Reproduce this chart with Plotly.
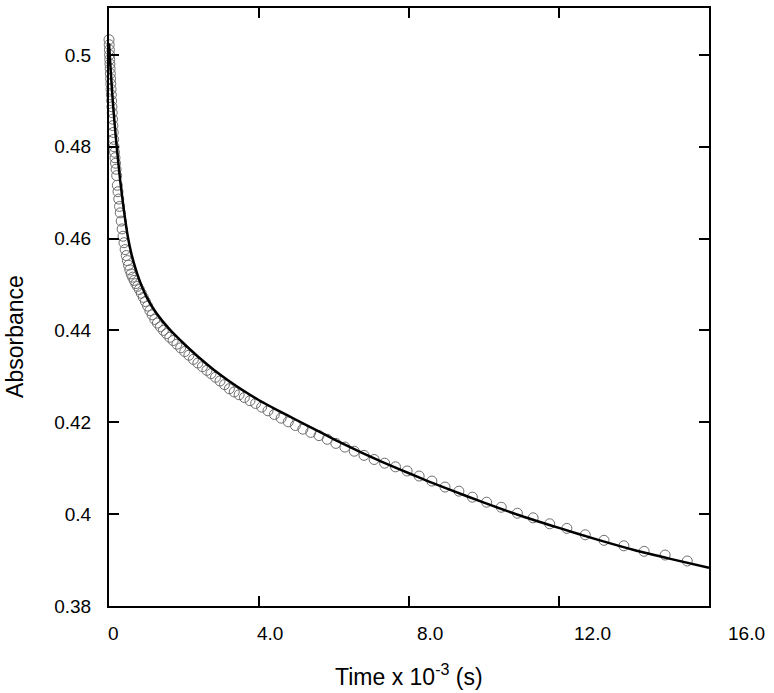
import plotly.graph_objects as go

# Measured data (time in units of 10^3 s, absorbance)
time_obs = [0.000, 0.005, 0.010, 0.015, 0.020, 0.025, 0.030, 0.036, 0.042, 0.048,
            0.055, 0.062, 0.070, 0.078, 0.086, 0.095, 0.104, 0.114, 0.124, 0.135,
            0.147, 0.160, 0.174, 0.189, 0.205, 0.222, 0.240, 0.260, 0.280, 0.300,
            0.325, 0.350, 0.375, 0.400, 0.430, 0.460, 0.490, 0.520, 0.555, 0.590,
            0.630, 0.670, 0.715, 0.760, 0.810, 0.860, 0.915, 0.970, 1.030, 1.090,
            1.150, 1.220, 1.290, 1.370, 1.450, 1.530, 1.620, 1.710, 1.810, 1.910,
            2.020, 2.130, 2.250, 2.370, 2.490, 2.610, 2.720, 2.840, 2.960, 3.080,
            3.210, 3.340, 3.470, 3.610, 3.760, 3.910, 4.070, 4.240, 4.410, 4.590,
            4.780, 4.970, 5.170, 5.380, 5.600, 5.820, 6.050, 6.290, 6.540, 6.800,
            7.070, 7.350, 7.640, 7.950, 8.270, 8.610, 8.960, 9.330, 9.690, 10.070,
            10.460, 10.890, 11.310, 11.750, 12.210, 12.700, 13.200, 13.730, 14.270, 14.830,
            15.420]
abs_obs = [0.5033, 0.5022, 0.5011, 0.5000, 0.4990, 0.4980, 0.4970, 0.4959, 0.4948, 0.4937,
           0.4925, 0.4913, 0.4900, 0.4887, 0.4874, 0.4860, 0.4846, 0.4831, 0.4816, 0.4800,
           0.4788, 0.4776, 0.4764, 0.4751, 0.4737, 0.4716, 0.4702, 0.4686, 0.4670, 0.4656,
           0.4638, 0.4621, 0.4605, 0.4591, 0.4576, 0.4563, 0.4552, 0.4542, 0.4532, 0.4523,
           0.4516, 0.4509, 0.4502, 0.4496, 0.4489, 0.4481, 0.4472, 0.4463, 0.4453, 0.4443,
           0.4434, 0.4424, 0.4416, 0.4408, 0.4400, 0.4393, 0.4385, 0.4378, 0.4370, 0.4362,
           0.4354, 0.4346, 0.4337, 0.4329, 0.4321, 0.4313, 0.4306, 0.4298, 0.4290, 0.4282,
           0.4273, 0.4266, 0.4260, 0.4254, 0.4247, 0.4241, 0.4233, 0.4225, 0.4217, 0.4209,
           0.4201, 0.4193, 0.4185, 0.4178, 0.4171, 0.4163, 0.4154, 0.4146, 0.4137, 0.4128,
           0.4119, 0.4111, 0.4103, 0.4094, 0.4083, 0.4072, 0.4059, 0.4050, 0.4037, 0.4026,
           0.4015, 0.4002, 0.3992, 0.3979, 0.3969, 0.3955, 0.3943, 0.3931, 0.3919, 0.3911,
           0.3898]

# Fitted curve
time_fit = [0.0, 0.05, 0.1, 0.15, 0.2, 0.3, 0.4, 0.5, 0.6, 0.7, 0.8, 0.9, 1.0, 1.2,
            1.4, 1.6, 1.8, 2.0, 2.4, 2.8, 3.2, 3.6, 4.0, 4.5, 5.0, 5.5, 6.0, 6.5, 7.0,
            7.5, 8.0, 8.5, 9.0, 10.0, 11.0, 12.0, 13.0, 14.0, 15.0, 16.0]
abs_fit = [0.5025, 0.4960, 0.4900, 0.4850, 0.4805, 0.4725, 0.4660, 0.4605, 0.4566,
           0.4537, 0.4512, 0.4491, 0.4473, 0.4445, 0.4423, 0.4404, 0.4387, 0.4371,
           0.4341, 0.4314, 0.4290, 0.4268, 0.4248, 0.4226, 0.4205, 0.4184, 0.4163,
           0.4143, 0.4124, 0.4106, 0.4089, 0.4072, 0.4056, 0.4025, 0.3996, 0.3970,
           0.3945, 0.3922, 0.3902, 0.3883]

# Axis ticks and labels
x_range = [0, 16]
x_tick_marks = [4, 8, 12]
x_tick_labels = ["0", "4.0", "8.0", "12.0", "16.0"]
x_label_pos = [0.11, 4.29, 8.56, 12.9, 17.0]
y_tick_vals = [0.38, 0.40, 0.42, 0.44, 0.46, 0.48, 0.50]
y_tick_text = ["0.38", "0.4", "0.42", "0.44", "0.46", "0.48", "0.5"]

FONT = "Liberation Sans, Arial, sans-serif"

fig = go.Figure()
fig.add_trace(go.Scatter(
    x=time_obs, y=abs_obs, mode="markers",
    marker=dict(symbol="circle", size=10, color="rgba(0,0,0,0)",
                line=dict(color="#6e6e6e", width=1)),
    showlegend=False, cliponaxis=False))
fig.add_trace(go.Scatter(
    x=time_fit, y=abs_fit, mode="lines",
    line=dict(color="black", width=2.5, shape="spline", smoothing=0.6),
    showlegend=False))

annotations = []
span = x_range[1] - x_range[0]
for pos, lab in zip(x_label_pos, x_tick_labels):
    annotations.append(dict(x=(pos - x_range[0]) / span, y=0, xref="paper", yref="paper",
                            text=lab, showarrow=False, yanchor="middle", xanchor="center",
                            yshift=-27, font=dict(family=FONT, size=19, color="black")))
annotations.append(dict(x=0.5, y=0, xref="paper", yref="paper",
                        text="Time x 10<sup>-3</sup> (s)", showarrow=False,
                        yanchor="middle", xanchor="center", yshift=-69,
                        font=dict(family=FONT, size=23, color="black")))
annotations.append(dict(x=0, y=0.45, xref="paper", yref="paper",
                        text="Absorbance", showarrow=False, textangle=-90,
                        yanchor="middle", xanchor="center", xshift=-94,
                        font=dict(family=FONT, size=23, color="black")))

fig.update_layout(
    width=774, height=693,
    margin=dict(l=109, r=65, t=6, b=87),
    paper_bgcolor="white", plot_bgcolor="white",
    annotations=annotations,
    xaxis=dict(range=x_range, tickvals=x_tick_marks, showticklabels=False,
               ticks="inside", ticklen=10, tickwidth=2, tickcolor="black",
               showline=True, linecolor="black", linewidth=2, mirror="ticks",
               showgrid=False, zeroline=False),
    yaxis=dict(range=[0.38, 0.5102], tickvals=y_tick_vals, ticktext=y_tick_text,
               ticks="inside", ticklen=10, tickwidth=2, tickcolor="black",
               showline=True, linecolor="black", linewidth=2, mirror="ticks",
               showgrid=False, zeroline=False, ticklabelstandoff=12,
               tickfont=dict(family=FONT, size=19, color="black")),
)

fig.write_html("out.html", config={"displayModeBar": False},
               post_script="document.body.style.margin='0';document.body.style.overflow='hidden';")
